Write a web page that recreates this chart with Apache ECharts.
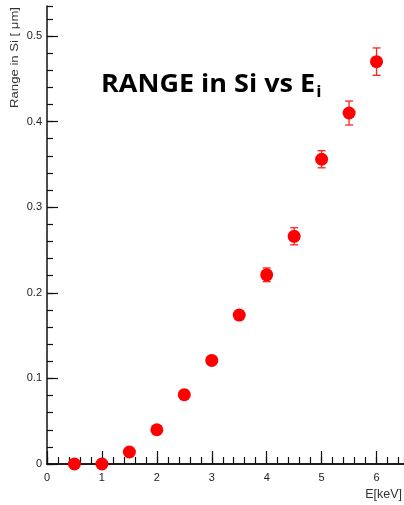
<!DOCTYPE html>
<html>
<head>
<meta charset="utf-8">
<script src="https://cdn.jsdelivr.net/npm/echarts@6/dist/echarts.min.js"></script>
<style>
  html, body { margin: 0; padding: 0; background: #fff; }
  #chart { width: 404px; height: 505px; }
</style>
</head>
<body>
<div id="chart"></div>
<script>
// energy (keV), range in Si (um), error
const energies = [0.5, 1, 1.5, 2, 2.5, 3, 3.5, 4, 4.5, 5, 5.5, 6]
const ranges = [0, 0, 0.014, 0.040, 0.081, 0.121, 0.174, 0.221, 0.266, 0.356, 0.410, 0.470]
const errors = [0, 0, 0.002, 0.002, 0.003, 0.003, 0.005, 0.008, 0.010, 0.010, 0.014, 0.016]

const chart = echarts.init(document.getElementById('chart'))

const points = energies.map((e, i) => [e, ranges[i]])
const bars = energies.map((e, i) => [e, ranges[i] - errors[i], ranges[i] + errors[i]])

const labelFont = { color: '#222', fontSize: 11, fontFamily: 'Liberation Sans, Arial, sans-serif' }

const option = {
  animation: false,
  grid: { left: 47, right: 0, top: 6, bottom: 41, containLabel: false },
  xAxis: [
    {
      type: 'value', min: 0, max: 6.5, interval: 1, position: 'bottom',
      axisLine: { show: true, onZero: false, lineStyle: { color: '#111', width: 1.5 } },
      axisTick: { show: true, inside: true, length: 13, lineStyle: { color: '#111', width: 1.2 } },
      axisLabel: { ...labelFont, margin: 8, showMaxLabel: false },
      splitLine: { show: false }
    },
    {
      type: 'value', min: 0, max: 6.5, interval: 0.2, position: 'bottom',
      axisLine: { show: false },
      axisTick: { show: true, inside: true, length: 7, lineStyle: { color: '#111', width: 1.2 } },
      axisLabel: { show: false },
      splitLine: { show: false }
    },
    {
      type: 'value', min: 0, max: 6.5, position: 'top',
      axisLine: { show: true, lineStyle: { color: '#111', width: 1.5 } },
      axisTick: { show: false }, axisLabel: { show: false }, splitLine: { show: false }
    }
  ],
  yAxis: [
    {
      type: 'value', min: 0, max: 0.535, interval: 0.1,
      axisLine: { show: true, onZero: false, lineStyle: { color: '#111', width: 1.5 } },
      axisTick: { show: true, inside: true, length: 11, lineStyle: { color: '#111', width: 1.2 } },
      axisLabel: { ...labelFont, margin: 5, showMaxLabel: false, formatter: v => v === 0 ? '0' : String(+v.toFixed(1)) },
      splitLine: { show: false }
    },
    {
      type: 'value', min: 0, max: 0.535, interval: 0.02, position: 'left',
      axisLine: { show: false },
      axisTick: { show: true, inside: true, length: 6, lineStyle: { color: '#111', width: 1.2 } },
      axisLabel: { show: false },
      splitLine: { show: false }
    }
  ],
  graphic: [
    {
      type: 'text', x: 15, y: 7, rotation: Math.PI / 2, scaleX: 1.25,
      style: {
        text: 'Range in Si [ \u03bcm]', align: 'right', verticalAlign: 'middle',
        fill: '#333', font: '10.5px "Liberation Sans", Arial, sans-serif'
      }
    },
    {
      type: 'text', x: 402, y: 495,
      style: {
        text: 'E[keV]', fill: '#333', align: 'right', verticalAlign: 'middle',
        font: '12.5px "Liberation Sans", Arial, sans-serif'
      }
    },
    {
      type: 'text', x: 101, y: 85, scaleX: 1.08,
      style: {
        text: '{m|RANGE in Si vs E}{s|i}',
        verticalAlign: 'middle',
        rich: {
          m: { fontSize: 25, fontWeight: 'bold', fontFamily: 'Open Sans', color: '#1a1a1a' },
          s: { fontSize: 16, fontWeight: 'bold', fontFamily: 'Open Sans', color: '#1a1a1a', padding: [15, 0, 0, 1] }
        }
      }
    }
  ],
  series: [
    {
      type: 'custom',
      xAxisIndex: 0, yAxisIndex: 0,
      data: bars,
      renderItem: (params, api) => {
        const x = api.value(0)
        const lo = api.coord([x, api.value(1)])
        const hi = api.coord([x, api.value(2)])
        const cap = 4
        const style = { stroke: '#f22', lineWidth: 1.3 }
        return {
          type: 'group',
          children: [
            { type: 'line', shape: { x1: lo[0], y1: lo[1], x2: hi[0], y2: hi[1] }, style },
            { type: 'line', shape: { x1: lo[0] - cap, y1: lo[1], x2: lo[0] + cap, y2: lo[1] }, style },
            { type: 'line', shape: { x1: hi[0] - cap, y1: hi[1], x2: hi[0] + cap, y2: hi[1] }, style }
          ]
        }
      },
      z: 2
    },
    {
      type: 'scatter',
      xAxisIndex: 0, yAxisIndex: 0,
      data: points,
      symbol: 'circle',
      symbolSize: 13,
      itemStyle: { color: '#ff0000', opacity: 1 },
      z: 3
    }
  ]
}

chart.setOption(option)
</script>
</body>
</html>
